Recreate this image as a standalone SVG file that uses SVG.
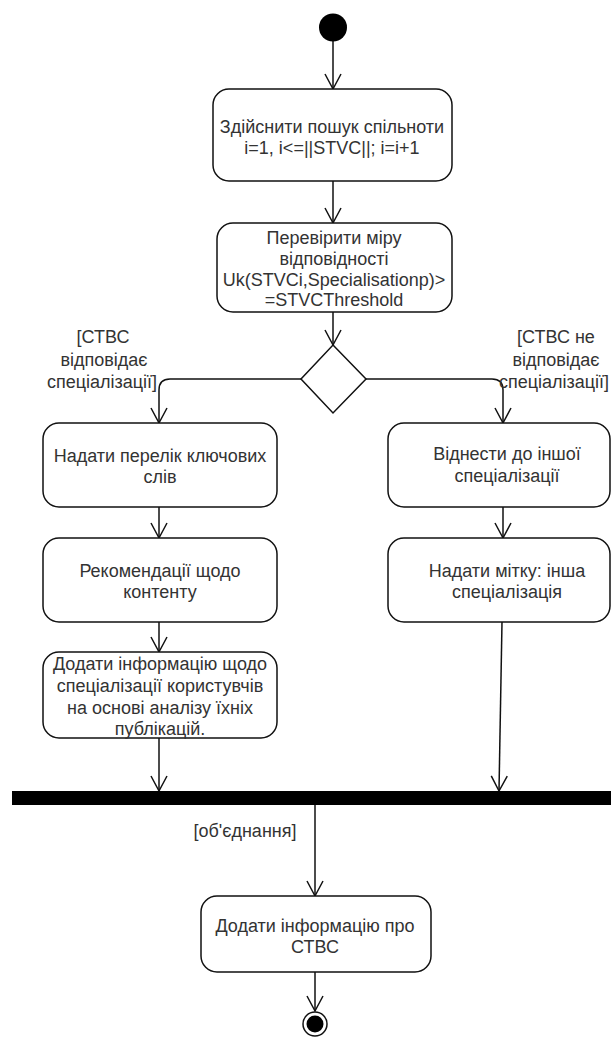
<svg xmlns="http://www.w3.org/2000/svg" width="611" height="1037" viewBox="0 0 611 1037">
  <style>
    .act { fill: #ffffff; stroke: #111111; stroke-width: 1.5; }
    .edge { fill: none; stroke: #111111; stroke-width: 1.5; }
    .lbl { font-family: "Liberation Sans", Arial, sans-serif; font-size: 18px; fill: #333333; text-anchor: middle; }
  </style>
  <defs>
    <marker id="open" markerUnits="userSpaceOnUse" markerWidth="20" markerHeight="20" viewBox="0 0 20 20" refX="17" refY="10" orient="auto">
      <path d="M2,2 L17,10 L2,18" fill="none" stroke="#111111" stroke-width="1.5"/>
    </marker>
  </defs>

  <rect width="611" height="1037" fill="#ffffff"/>

  <!-- connectors -->
  <g id="connectors">
    <path class="edge" d="M333,41 V89" marker-end="url(#open)"/>
    <path class="edge" d="M333,181 V223" marker-end="url(#open)"/>
    <path class="edge" d="M333,312 V345" marker-end="url(#open)"/>
    <path class="edge" d="M301,379 H170 Q159,379 159,390 V423" marker-end="url(#open)"/>
    <path class="edge" d="M366,379 H492 Q503,379 503,390 V423" marker-end="url(#open)"/>
    <path class="edge" d="M159,507 V538" marker-end="url(#open)"/>
    <path class="edge" d="M159,622 V652" marker-end="url(#open)"/>
    <path class="edge" d="M159,738 V791" marker-end="url(#open)"/>
    <path class="edge" d="M503,507 V538" marker-end="url(#open)"/>
    <path class="edge" d="M502,622 L499,791" marker-end="url(#open)"/>
    <path class="edge" d="M315,805 V896" marker-end="url(#open)"/>
    <path class="edge" d="M315,972 V1011" marker-end="url(#open)"/>
    <text class="lbl" x="103" y="343">[СТВС</text>
    <text class="lbl" x="104" y="366">відповідає</text>
    <text class="lbl" x="102" y="388">спеціалізації]</text>
    <text class="lbl" x="556" y="343">[СТВС не</text>
    <text class="lbl" x="556" y="366">відповідає</text>
    <text class="lbl" x="554" y="388">спеціалізації]</text>
    <text class="lbl" x="245" y="837">[об'єднання]</text>
  </g>

  <!-- start -->
  <g id="start">
    <circle cx="333" cy="27.5" r="14" fill="#000000"/>
  </g>

  <g id="search">
    <rect class="act" x="213" y="89" width="239" height="92" rx="16"/>
    <text class="lbl" x="332" y="133">Здійснити пошук спільноти</text>
    <text class="lbl" x="332" y="154">i=1, i&lt;=||STVC||; i=i+1</text>
  </g>

  <g id="check">
    <rect class="act" x="217" y="223" width="235" height="89" rx="16"/>
    <text class="lbl" x="334" y="244">Перевірити міру</text>
    <text class="lbl" x="334" y="265">відповідності</text>
    <text class="lbl" x="334" y="286">Uk(STVCi,Specialisationp)&gt;</text>
    <text class="lbl" x="334" y="306">=STVCThreshold</text>
  </g>

  <g id="decision">
    <polygon class="act" points="333,345 366,379 333,413 301,379"/>
  </g>

  <g id="keywords">
    <rect class="act" x="43" y="423" width="234" height="84" rx="16"/>
    <text class="lbl" x="160" y="462">Надати перелік ключових</text>
    <text class="lbl" x="160" y="483">слів</text>
  </g>

  <g id="content">
    <rect class="act" x="43" y="538" width="234" height="84" rx="16"/>
    <text class="lbl" x="160" y="577">Рекомендації щодо</text>
    <text class="lbl" x="160" y="598">контенту</text>
  </g>

  <g id="userinfo">
    <rect class="act" x="43" y="652" width="234" height="86" rx="16"/>
    <text class="lbl" x="160" y="670">Додати інформацію щодо</text>
    <text class="lbl" x="160" y="692">спеціалізації користувчів</text>
    <text class="lbl" x="160" y="714">на основі аналізу їхніх</text>
    <text class="lbl" x="160" y="735">публікацій.</text>
  </g>

  <g id="other">
    <rect class="act" x="388" y="423" width="222" height="84" rx="16"/>
    <text class="lbl" x="507" y="460">Віднести до іншої</text>
    <text class="lbl" x="507" y="482">спеціалізації</text>
  </g>

  <g id="tag">
    <rect class="act" x="388" y="538" width="222" height="84" rx="16"/>
    <text class="lbl" x="507" y="577">Надати мітку: інша</text>
    <text class="lbl" x="507" y="598">спеціалізація</text>
  </g>

  <g id="join">
    <rect x="12" y="791" width="599" height="14" fill="#000000"/>
  </g>

  <g id="addinfo">
    <rect class="act" x="201" y="896" width="230" height="76" rx="16"/>
    <text class="lbl" x="315" y="932">Додати інформацію про</text>
    <text class="lbl" x="315" y="953">СТВС</text>
  </g>

  <g id="end">
    <circle cx="315" cy="1024" r="12" fill="#ffffff" stroke="#111111" stroke-width="1.5"/>
    <circle cx="315" cy="1024" r="8.5" fill="#000000"/>
  </g>
</svg>
